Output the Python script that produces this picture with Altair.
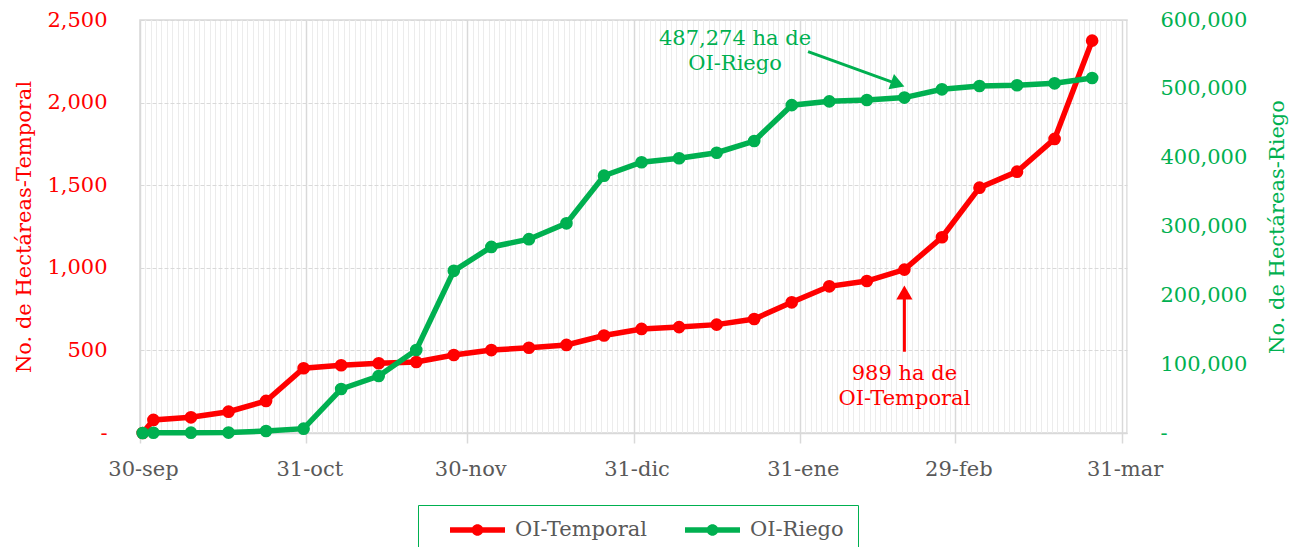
import altair as alt
import pandas as pd

# ---------------- data ----------------
fechas = ["2019-09-30", "2019-10-02", "2019-10-09", "2019-10-16", "2019-10-23", "2019-10-30",
          "2019-11-06", "2019-11-13", "2019-11-20", "2019-11-27",
          "2019-12-04", "2019-12-11", "2019-12-18", "2019-12-25",
          "2020-01-01", "2020-01-08", "2020-01-15", "2020-01-22", "2020-01-29",
          "2020-02-05", "2020-02-12", "2020-02-19", "2020-02-26",
          "2020-03-04", "2020-03-11", "2020-03-18", "2020-03-25"]
oi_temporal = [0, 79, 95, 129, 194, 392, 410, 422, 430, 472, 502, 516, 533, 590,
               630, 641, 656, 690, 791, 888, 920, 989, 1185, 1485, 1582, 1780, 2375]
oi_riego = [0, 300, 500, 600, 2900, 6300, 63900, 82800, 120600, 235600, 270300, 281600,
            304600, 373800, 393300, 399100, 407200, 424200, 476300, 481800, 483800,
            487274, 499300, 504100, 505200, 508000, 515700]
series_names = ["OI-Temporal", "OI-Riego"]
series_colors = ["#FF0000", "#00B050"]

dominio_x = ["2019-09-30", "2020-04-01"]
x_mayores = ["2019-09-30", "2019-10-31", "2019-11-30", "2019-12-31",
             "2020-01-31", "2020-02-29", "2020-03-31"]
meses = ["ene", "feb", "mar", "abr", "may", "jun", "jul", "ago", "sep", "oct", "nov", "dic"]
ticks_temporal = [0, 500, 1000, 1500, 2000, 2500]
ticks_riego = [0, 100000, 200000, 300000, 400000, 500000, 600000]

# annotations
texto_rojo = ["989 ha de", "OI-Temporal"]
texto_rojo_fecha = ["2020-02-19T12:00", "2020-02-19T12:00"]
texto_rojo_valor = [356, 205]
flecha_roja_fecha = "2020-02-19T12:00"
flecha_roja_desde = 492
flecha_roja_hasta = 850

texto_verde = ["487,274 ha de", "OI-Riego"]
texto_verde_fecha = ["2020-01-18T22:20", "2020-01-18T22:20"]
texto_verde_valor = [572000, 535500]
flecha_verde_fecha = ["2020-02-01T13:00", "2020-02-18T06:30"]
flecha_verde_valor = [554000, 506900]


def ms(s):
    return int(pd.Timestamp(s, tz="UTC").value // 10**6)


puntos_ms = [ms(f + "T12:00") for f in fechas]
df = pd.DataFrame({
    "fecha": puntos_ms * 2,
    "serie": [series_names[0]] * len(fechas) + [series_names[1]] * len(fechas),
    "valor": oi_temporal + oi_riego,
})

df_txt_r = pd.DataFrame({"fecha": [ms(f) for f in texto_rojo_fecha], "valor": texto_rojo_valor, "texto": texto_rojo})
df_flecha_r = pd.DataFrame({"fecha": [ms(flecha_roja_fecha)], "valor": [flecha_roja_desde], "valor2": [flecha_roja_hasta]})
df_punta_r = pd.DataFrame({"fecha": [ms(flecha_roja_fecha)], "valor": [flecha_roja_hasta]})

df_txt_v = pd.DataFrame({"fecha": [ms(f) for f in texto_verde_fecha], "valor": texto_verde_valor, "texto": texto_verde})
df_flecha_v = pd.DataFrame({"fecha": [ms(flecha_verde_fecha[0])], "fecha2": [ms(flecha_verde_fecha[1])],
                            "valor": [flecha_verde_valor[0]], "valor2": [flecha_verde_valor[1]]})
df_punta_v = pd.DataFrame({"fecha": [ms(flecha_verde_fecha[1])], "valor": [flecha_verde_valor[1]]})

# ---------------- axes / scales ----------------
FONT = "DejaVu Serif"
FS = 21
mayores_ms = [ms(d) for d in x_mayores]
dias_ms = [ms(d.strftime("%Y-%m-%d")) for d in pd.date_range(dominio_x[0], dominio_x[1], freq="D")]
test_mayor = "indexof([" + ",".join(str(v) for v in mayores_ms) + "], +datum.value) >= 0"
meses_js = "[" + ",".join("'" + m + "'" for m in meses) + "]"

x_axis = alt.Axis(
    values=dias_ms,
    labelExpr=f"({test_mayor}) ? utcdate(datum.value) + '-' + {meses_js}[utcmonth(datum.value)] : ''",
    labelOverlap=False, labelFlush=False, labelBound=False,
    labelFontSize=FS, labelColor="#595959", labelPadding=15, labelOffset=3,
    grid=True,
    gridColor={"condition": {"test": test_mayor, "value": "#d9d9d9"}, "value": "#ececec"},
    gridWidth={"condition": {"test": test_mayor, "value": 1.5}, "value": 1},
    tickColor={"condition": {"test": test_mayor, "value": "#d9d9d9"}, "value": "transparent"},
    tickSize=10, tickWidth=1.5,
    domainColor="#d9d9d9", domainWidth=1.5,
    title=None,
)
x_enc = alt.X("fecha:T",
              scale=alt.Scale(type="utc", domain=[ms(dominio_x[0]), ms(dominio_x[1])]),
              axis=x_axis)

y_axis_t = alt.Axis(
    values=ticks_temporal,
    labelExpr="datum.value == 0 ? '-\u2007' : format(datum.value, ',')",
    labelColor="#FF0000", labelFontSize=FS, labelPadding=33,
    ticks=False, tickSize=0, domain=False,
    grid=True, gridColor="#d9d9d9", gridDash=[4, 2], gridWidth=1.2,
    title="No. de Hectáreas-Temporal", titleColor="#FF0000", titleFontSize=FS,
    titleFontWeight="normal", titlePadding=12,
)
y_axis_r = alt.Axis(
    orient="right",
    values=ticks_riego,
    labelExpr="datum.value == 0 ? '-' : format(datum.value, ',')",
    labelColor="#00B050", labelFontSize=FS, labelPadding=33,
    ticks=False, tickSize=0, domain=False, grid=False,
    title="No. de Hectáreas-Riego", titleColor="#00B050", titleFontSize=FS,
    titleFontWeight="normal", titlePadding=20, titleAngle=270, titleBaseline="top",
)
y_t = alt.Y("valor:Q", scale=alt.Scale(domain=[0, 2500], nice=False), axis=y_axis_t)
y_r = alt.Y("valor:Q", scale=alt.Scale(domain=[0, 600000], nice=False), axis=y_axis_r)

color_scale = alt.Scale(domain=series_names, range=series_colors)
# legend glyph: a line with a dot in the middle (units of 11 px)
simbolo = ("M-2.5,-0.25H2.5V0.25H-2.5Z "
           "M0.53,0A0.53,0.53,0,1,1,-0.53,0A0.53,0.53,0,1,1,0.53,0Z")
leyenda = alt.Legend(
    title=None, orient="none", legendX=278, legendY=485, direction="horizontal",
    strokeColor="#00B050", padding=14,
    symbolType=simbolo, symbolSize=484, symbolStrokeWidth=0, symbolOpacity=1,
    symbolOffset=34.5,
    labelFont=FONT, labelFontSize=FS, labelColor="#595959", labelOffset=26.5, labelLimit=400,
    columnPadding=20,
)
c_pts = alt.Color("serie:N", scale=color_scale, legend=leyenda)

base = alt.Chart(df)
LW = 5.5
PS = 160

# ----- OI-Temporal (left axis) -----
rb = base.transform_filter(alt.datum.serie == series_names[0])
r_line = rb.mark_line(strokeWidth=LW, color=series_colors[0]).encode(x=x_enc, y=y_t)
r_pts = rb.mark_circle(size=PS, opacity=1).encode(x=x_enc, y=y_t, color=c_pts)
r_rule = alt.Chart(df_flecha_r).mark_rule(color="#FF0000", strokeWidth=3).encode(
    x=x_enc, y=y_t, y2="valor2:Q")
r_head = alt.Chart(df_punta_r).mark_point(shape="triangle-up", filled=True, size=260,
                                          color="#FF0000", opacity=1).encode(x=x_enc, y=y_t)
r_text = alt.Chart(df_txt_r).mark_text(color="#FF0000", fontSize=FS, font=FONT,
                                       align="center", baseline="middle").encode(
    x=x_enc, y=y_t, text="texto:N")
rojo = alt.layer(r_line, r_pts, r_rule, r_head, r_text)

# ----- OI-Riego (right axis) -----
gb = base.transform_filter(alt.datum.serie == series_names[1])
g_line = gb.mark_line(strokeWidth=LW, color=series_colors[1]).encode(x=x_enc, y=y_r)
g_pts = gb.mark_circle(size=PS, opacity=1).encode(x=x_enc, y=y_r, color=c_pts)
g_rule = alt.Chart(df_flecha_v).mark_rule(color="#00B050", strokeWidth=3).encode(
    x=x_enc, x2="fecha2:T", y=y_r, y2="valor2:Q")
g_head = alt.Chart(df_punta_v).mark_point(shape="triangle-right", filled=True, size=260,
                                          angle=20, color="#00B050", opacity=1).encode(x=x_enc, y=y_r)
g_text = alt.Chart(df_txt_v).mark_text(color="#00B050", fontSize=FS, font=FONT,
                                       align="center", baseline="middle").encode(
    x=x_enc, y=y_r, text="texto:N")
verde = alt.layer(g_line, g_pts, g_rule, g_head, g_text)

chart = (
    alt.layer(rojo, verde)
    .resolve_scale(y="independent")
    .properties(
        width=987, height=413,
        padding={"left": 132, "top": 12, "right": 168, "bottom": 114},
        autosize=alt.AutoSizeParams(type="none"),
    )
    .configure(font=FONT)
    .configure_view(stroke="#d9d9d9", strokeWidth=1.5)
)

chart.save("out.html", embed_options={"renderer": "svg", "actions": False})
